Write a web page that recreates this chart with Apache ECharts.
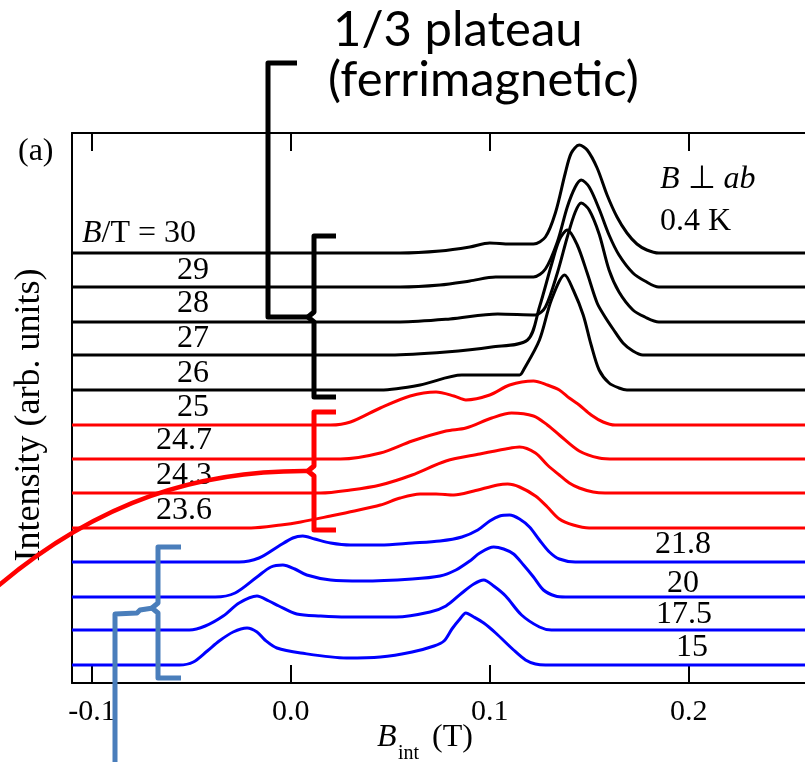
<!DOCTYPE html>
<html><head><meta charset="utf-8">
<script src="https://cdn.jsdelivr.net/npm/echarts/dist/echarts.min.js"></script>
<style>html,body{margin:0;padding:0;background:#fff}#c{width:805px;height:762px}</style>
</head><body><div id="c"></div>
<script>
// field values (T) for each spectrum, top to bottom
const fields = ['30','29','28','27','26','25','24.7','24.3','23.6','21.8','20','17.5','15'];
// vertical offset of each spectrum (arb. units)
const offsets = [430,396,361,328,293,258,224,190,155,121,86,53,18];
const colors = ['#000000','#000000','#000000','#000000','#000000','#ff0000','#ff0000','#ff0000','#ff0000','#0000ff','#0000ff','#0000ff','#0000ff'];
const xTicks = [-0.1, 0.0, 0.1, 0.2];

// [B_int (T), intensity above baseline]
const trace30 = [[-0.11,0],[0.055,0],[0.075,2],[0.090,6],[0.100,10],[0.110,9],[0.122,9],[0.128,16],[0.133,40],[0.138,80],[0.141,100],[0.145,108],[0.149,103],[0.154,85],[0.159,58],[0.164,36],[0.169,20],[0.174,9],[0.179,3],[0.185,0],[0.26,0]];
const trace29 = [[-0.11,0],[0.055,0],[0.075,2],[0.090,6],[0.103,10],[0.122,10],[0.128,18],[0.134,45],[0.139,80],[0.143,100],[0.146,107],[0.150,100],[0.155,78],[0.160,52],[0.165,32],[0.172,14],[0.178,6],[0.185,0],[0.26,0]];
const trace28 = [[-0.11,0],[0.055,0],[0.080,3],[0.104,8],[0.123,7],[0.128,15],[0.134,49],[0.139,85],[0.143,110],[0.146,119],[0.150,112],[0.155,88],[0.160,52],[0.165,30],[0.172,12],[0.178,5],[0.185,0],[0.26,0]];
const trace27 = [[-0.11,0],[0.050,0],[0.078,3],[0.101,8],[0.119,15],[0.125,48],[0.131,90],[0.135,115],[0.139,125],[0.144,110],[0.149,82],[0.154,52],[0.158,38],[0.162,26],[0.167,12],[0.172,4],[0.177,0],[0.26,0]];
const trace26 = [[-0.11,0],[0.045,0],[0.065,5],[0.086,15],[0.115,15],[0.117,20],[0.125,50],[0.131,90],[0.1377,115],[0.142,100],[0.147,75],[0.151,45],[0.155,20],[0.160,7],[0.165,2],[0.169,0],[0.26,0]];
const trace25 = [[-0.11,0],[0.020,0],[0.030,3],[0.045,17],[0.060,29],[0.073,33],[0.082,29],[0.088,25],[0.100,30],[0.110,40],[0.122,44],[0.129,40],[0.135,35],[0.140,27],[0.145,20],[0.151,10],[0.157,3],[0.163,0],[0.26,0]];
const trace247 = [[-0.11,0],[0.025,0],[0.045,6],[0.061,18],[0.078,28],[0.088,31],[0.101,41],[0.111,46],[0.122,43],[0.129,34],[0.135,24],[0.145,8],[0.155,1],[0.163,0],[0.26,0]];
const trace243 = [[-0.11,0],[0.015,0],[0.030,3],[0.045,8],[0.061,18],[0.078,32],[0.095,39],[0.108,44],[0.115,46],[0.123,40],[0.129,28],[0.135,18],[0.140,10],[0.145,5],[0.152,1],[0.158,0],[0.26,0]];
const trace236 = [[-0.11,0],[-0.020,0],[-0.005,3],[0.005,6],[0.020,12],[0.032,17],[0.045,23],[0.055,30],[0.065,34],[0.073,34],[0.082,33],[0.092,37],[0.104,43],[0.109,44],[0.115,41],[0.123,32],[0.129,21],[0.135,9],[0.142,3],[0.150,0],[0.26,0]];
const trace218 = [[-0.11,0],[-0.026,0],[-0.016,4],[-0.006,16],[0.001,24],[0.006,26],[0.012,23],[0.020,19],[0.030,17],[0.045,17],[0.061,19],[0.075,21],[0.086,25],[0.094,32],[0.100,41],[0.105,46],[0.110,47],[0.115,43],[0.120,35],[0.125,22],[0.130,10],[0.135,3],[0.143,0],[0.26,0]];
const trace20 = [[-0.11,0],[-0.038,0],[-0.028,4],[-0.017,20],[-0.010,30],[-0.004,32],[0.002,28],[0.008,22],[0.020,17],[0.036,16],[0.061,18],[0.075,21],[0.083,27],[0.090,36],[0.095,44],[0.102,50],[0.107,48],[0.112,43],[0.117,32],[0.122,20],[0.127,7],[0.133,1],[0.138,0],[0.26,0]];
const trace175 = [[-0.11,0],[-0.051,0],[-0.043,4],[-0.034,14],[-0.026,27],[-0.017,34],[-0.011,29],[-0.006,24],[0.003,16],[0.015,14],[0.028,13],[0.053,13],[0.070,18],[0.078,24],[0.086,37],[0.092,46],[0.097,50],[0.102,44],[0.108,34],[0.116,15],[0.125,3],[0.131,0],[0.26,0]];
const trace15 = [[-0.11,0],[-0.056,0],[-0.049,3],[-0.042,14],[-0.036,24],[-0.029,33],[-0.022,37],[-0.017,33],[-0.013,25],[-0.007,17],[0.005,12],[0.028,7],[0.045,8],[0.061,13],[0.072,19],[0.077,24],[0.081,36],[0.085,46],[0.088,52],[0.092,48],[0.097,42],[0.103,32],[0.112,15],[0.118,5],[0.123,1],[0.128,0],[0.26,0]];

const traces = [trace30,trace29,trace28,trace27,trace26,trace25,trace247,trace243,trace236,trace218,trace20,trace175,trace15];

const SERIF = 'Liberation Serif';
const series = traces.map((t, i) => ({
  type: 'line', name: fields[i], showSymbol: false, smooth: 0.3, animation: false,
  data: t.map(p => [p[0], offsets[i] + p[1]]),
  lineStyle: { color: colors[i], width: 3 }
}));

// label positions (annotation text)
const labelPos = [[82,234,'left'],[193,271],[193,304],[193,339],[193,374],[193,408],[184,441],[184,476],[184,511],[683,545],[683,584],[684,615],[692,648]];
const graphics = [];
fields.forEach((f, i) => {
  const p = labelPos[i];
  graphics.push({ type: 'text', x: p[0], y: p[1], z: 50,
    style: { text: i === 0 ? '{i|B}/T = ' + f : f, fill: '#000', font: '32px "' + SERIF + '"',
      align: p[2] || 'center', verticalAlign: 'middle',
      rich: { i: { fontStyle: 'italic', fontFamily: SERIF, fontSize: 32 } } } });
});
const txt = (text, x, y, size, extra) => ({ type: 'text', x: x, y: y, z: 50,
  style: Object.assign({ text: text, fill: '#000', font: size + 'px "' + SERIF + '"', align: 'left', verticalAlign: 'middle' }, extra || {}) });
graphics.push(txt('(a)', 18, 152, 32));
graphics.push(txt('{i|B} \u22a5 {i|ab}', 660, 180, 32, { rich: { i: { fontStyle: 'italic', fontFamily: SERIF, fontSize: 32 } } }));
graphics.push(txt('0.4 K', 660, 222, 32));
graphics.push(txt('B', 377, 738, 32, { font: 'italic 32px "' + SERIF + '"' }));
graphics.push(txt('int', 398, 754, 20));
graphics.push(txt('(T)', 432, 738, 32));
graphics.push({ type: 'text', x: 30, y: 415, rotation: Math.PI / 2, z: 50,
  style: { text: 'Intensity (arb. units)', fill: '#000', font: '36px "' + SERIF + '"', align: 'center', verticalAlign: 'middle' } });
graphics.push(txt('1/3 plateau', 333, 30, 49, { font: '49px Lato' }));
graphics.push(txt('(ferrimagnetic)', 328, 80, 49, { font: '49px Lato' }));

const poly = (pts, color, w) => ({ type: 'polyline', z: 60, shape: { points: pts },
  style: { fill: null, stroke: color, lineWidth: w, lineJoin: 'round' } });
graphics.push(poly([[297,63],[268,63],[268,317],[309,317]], '#000', 5));
graphics.push(poly([[336,236],[314,236],[314,312],[308,317],[314,322],[314,397],[336,397]], '#000', 5));
graphics.push(poly([[336,412],[314,412],[314,466],[308,471],[314,476],[314,530],[336,530]], '#ff0000', 5));
graphics.push({ type: 'bezierCurve', z: 60,
  shape: { x1: -2, y1: 586, cpx1: 100, cpy1: 500, cpx2: 200, cpy2: 470, x2: 309, y2: 471 },
  style: { fill: null, stroke: '#ff0000', lineWidth: 4.5 } });
graphics.push(poly([[181,547],[158,547],[158,603],[152,608],[158,613],[158,678],[181,678]], '#4a7ebb', 5));
graphics.push(poly([[153,608],[140,610],[137,613],[115,614],[115,765]], '#4a7ebb', 5));

const chart = echarts.init(document.getElementById('c'), null, { renderer: 'canvas' });
chart.setOption({
  backgroundColor: '#fff',
  animation: false,
  grid: { left: 72, top: 133, right: 0, height: 550, containLabel: false, outerBoundsMode: 'none' },
  xAxis: [
    { type: 'value', min: -0.11, max: 0.2585, position: 'bottom',
      axisLine: { onZero: false, lineStyle: { color: '#000', width: 2 } },
      axisTick: { inside: true, length: 18, customValues: xTicks, lineStyle: { color: '#000', width: 2 } },
      axisLabel: { customValues: xTicks, formatter: v => v.toFixed(1), fontFamily: SERIF, fontSize: 30, color: '#000', margin: 14 },
      splitLine: { show: false } },
    { type: 'value', min: -0.11, max: 0.2585, position: 'top',
      axisLine: { onZero: false, lineStyle: { color: '#000', width: 2 } },
      axisTick: { inside: true, length: 18, customValues: xTicks, lineStyle: { color: '#000', width: 2 } },
      axisLabel: { show: false }, splitLine: { show: false } }
  ],
  yAxis: { type: 'value', min: 0, max: 550,
    axisLine: { show: true, onZero: false, lineStyle: { color: '#000', width: 2 } },
    axisTick: { show: false }, axisLabel: { show: false }, splitLine: { show: false } },
  series: series,
  graphic: graphics
});
</script></body></html>
